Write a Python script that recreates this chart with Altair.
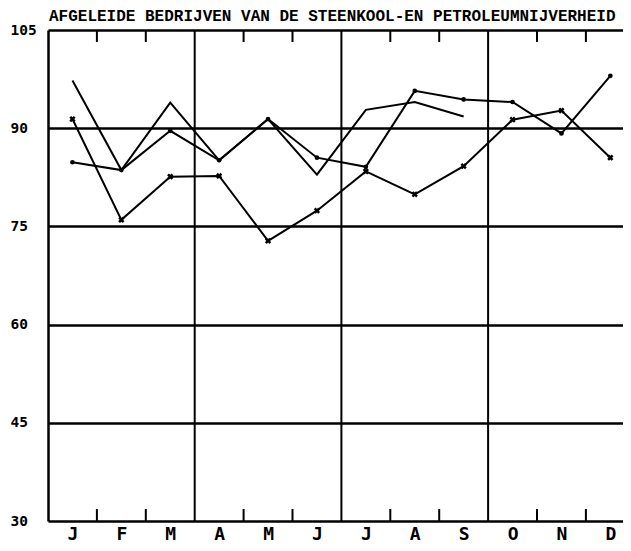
import altair as alt
import pandas as pd

months = ["J", "F", "M", "A", "M", "J", "J", "A", "S", "O", "N", "D"]
serie_a = [97.3, 83.6, 93.9, 85.1, 91.4, 82.9, 92.8, 94.0, 91.8, None, None, None]
serie_b = [84.8, 83.6, 89.6, 85.1, 91.4, 85.5, 84.1, 95.7, 94.4, 94.0, 89.2, 98.0]
serie_c = [91.4, 76.0, 82.6, 82.7, 72.8, 77.4, 83.4, 79.9, 84.2, 91.3, 92.7, 85.5]
y_ticks = [30, 45, 60, 75, 90, 105]
quarter_bounds = [3, 6, 9]
month_bounds = [1, 2, 4, 5, 7, 8, 10, 11]
title_text = "AFGELEIDE BEDRIJVEN VAN DE STEENKOOL-EN PETROLEUMNIJVERHEID"

W, H = 575, 491
MONTH_W = 48.9
XMAX = W / MONTH_W

rows = []
for name, vals in [("A", serie_a), ("B", serie_b), ("C", serie_c)]:
    for i, v in enumerate(vals):
        if v is not None:
            rows.append({"s": name, "x": i + 0.5, "v": v})
df = pd.DataFrame(rows)

xs = alt.Scale(domain=[0, XMAX], nice=False, zero=False)
ys = alt.Scale(domain=[30, 105], nice=False, zero=False)

label_expr = "[" + ",".join("'%s'" % m for m in months) + "][floor(datum.value)]"

FONT = "DejaVu Sans Mono"

lines = alt.Chart(df).mark_line(color="black", strokeWidth=2).encode(
    x=alt.X("x:Q", scale=xs, axis=alt.Axis(
        values=[i + 0.5 for i in range(12)], labelExpr=label_expr,
        ticks=False, domain=False, grid=False, title=None,
        labelFont=FONT, labelFontWeight="bold", labelFontSize=18,
        labelColor="black", labelPadding=4, labelBaseline="top")),
    y=alt.Y("v:Q", scale=ys, axis=alt.Axis(
        values=y_ticks, grid=True, gridColor="black", gridWidth=2.5, gridOpacity=1,
        ticks=False, domain=True, domainColor="black", domainWidth=2.5, title=None,
        labelFont=FONT, labelFontWeight="bold", labelFontSize=14.5,
        labelColor="black", labelAlign="left", labelPadding=38, labelBaseline="middle")),
    detail="s:N",
)

pts_b = alt.Chart(df).transform_filter(alt.datum.s == "B").mark_point(
    shape="circle", filled=True, color="black", size=22, opacity=1
).encode(x=alt.X("x:Q", scale=xs), y=alt.Y("v:Q", scale=ys))

pts_c = alt.Chart(df).transform_filter(alt.datum.s == "C").mark_point(
    shape="cross", angle=45, filled=True, color="black", size=40, opacity=1
).encode(x=alt.X("x:Q", scale=xs), y=alt.Y("v:Q", scale=ys))

qdf = pd.DataFrame({"b": quarter_bounds})
quarters = alt.Chart(qdf).mark_rule(color="black", strokeWidth=2).encode(
    x=alt.X("b:Q", scale=xs)
)

mdf = pd.DataFrame({"b": month_bounds})
ticks_top = alt.Chart(mdf).mark_rule(color="black", strokeWidth=2).encode(
    x=alt.X("b:Q", scale=xs), y=alt.value(0), y2=alt.value(12)
)
ticks_bot = alt.Chart(mdf).mark_rule(color="black", strokeWidth=2).encode(
    x=alt.X("b:Q", scale=xs), y=alt.value(H - 12), y2=alt.value(H)
)

chart = alt.layer(quarters, ticks_top, ticks_bot, lines, pts_b, pts_c).properties(
    width=W, height=H,
    title=alt.TitleParams(
        text=title_text, anchor="start", frame="group", font="Liberation Mono",
        fontWeight="bold", fontSize=16, color="black", offset=0, dx=1, dy=2,
    ),
    autosize=alt.AutoSizeParams(type="none"),
    padding={"left": 40, "top": 22, "right": 0, "bottom": 22},
).configure_view(stroke=None).configure(background="white")

chart.save("out.html", embed_options={"renderer": "svg", "actions": False})
